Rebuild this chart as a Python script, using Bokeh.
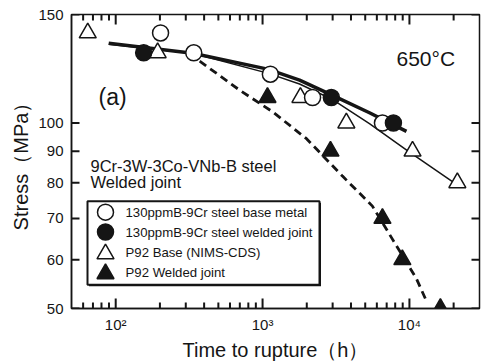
from bokeh.plotting import figure
from bokeh.models import Range1d, LinearScale, BasicTickFormatter
from bokeh.core.properties import value
from bokeh.embed import file_html
from bokeh.resources import INLINE

FONT = "Liberation Sans"
INK = "#151515"

# ---------------- data ----------------
x_major_ticks = [100, 1000, 10000]
x_minor_ticks = [60, 70, 80, 90, 200, 300, 400, 500, 600, 700, 800, 900,
                 2000, 3000, 4000, 5000, 6000, 7000, 8000, 9000, 20000]
x_tick_labels = ["10\u00b2", "10\u00b3", "10\u2074"]
y_ticks = [50, 60, 70, 80, 90, 100, 150]
y_tick_labels = ["50", "60", "70", "80", "90", "100", "150"]

# 130ppmB-9Cr steel base metal (open circles)
base_t = [202, 340, 1130, 2190, 6550]
base_s = [140, 130, 120, 110, 100]
# 130ppmB-9Cr steel welded joint (filled circles)
weld_t = [155, 2940, 7780]
weld_s = [130, 110, 100]
# P92 base (NIMS-CDS) (open triangles)
p92b_t = [64.5, 193, 1810, 3720, 10500, 21200]
p92b_s = [140, 130, 110, 100, 90, 80]
# P92 welded joint (filled triangles)
p92w_t = [1080, 2900, 6550, 8950, 16250]
p92w_s = [110, 90, 70, 60, 50]

# fitted curves
thick_t = [89.6, 334, 1082, 1786, 2946, 5342, 9547]
thick_s = [134.7, 129.8, 122.3, 117.4, 111.1, 103.9, 96.9]
thin_t = [89.6, 334, 1082, 1786, 2946, 5342, 9683, 20900]
thin_s = [134.2, 129.8, 120.5, 115.7, 109.4, 99.8, 90.2, 79.5]
dash_t = [373, 697, 1169, 1992, 3499, 5598, 7658, 11160, 13060]
dash_s = [126.0, 113.1, 104.3, 94.3, 82.0, 73.3, 64.8, 55.9, 51.4]

legend_labels = ["130ppmB-9Cr steel base metal",
                 "130ppmB-9Cr steel welded joint",
                 "P92  Base  (NIMS-CDS)",
                 "P92  Welded joint"]

# ---------------- figure ----------------
W, H = 493, 363
BL, BR, BT, BB = 71, 14, 14, 53
FW, FH = W - BL - BR, H - BT - BB
X0, X1, Y0, Y1 = 50, 30000, 50, 150
p = figure(x_axis_type="log", y_axis_type="log",
           x_range=Range1d(X0, X1), y_range=Range1d(Y0, Y1),
           width=W, height=H,
           min_border_left=BL, min_border_right=BR, min_border_top=BT, min_border_bottom=BB,
           output_backend="svg", toolbar_location=None)
p.grid.visible = False
p.background_fill_color = "white"
p.border_fill_color = "white"
p.outline_line_color = INK
p.outline_line_width = 1.5

def style_axis(ax):
    ax.axis_line_color = INK
    ax.axis_line_width = 1.5
    ax.major_tick_out = 0
    ax.minor_tick_out = 0
    ax.major_tick_in = 0
    ax.minor_tick_in = 0
    ax.major_tick_line_color = None
    ax.minor_tick_line_color = None
    ax.major_label_text_font = FONT
    ax.major_label_text_color = INK
    ax.axis_label_text_font = FONT
    ax.axis_label_text_font_style = "normal"
    ax.axis_label_text_color = INK

xa = p.xaxis[0]
style_axis(xa)
xa.ticker = x_major_ticks
xa.major_label_overrides = dict(zip(x_major_ticks, x_tick_labels))
xa.major_label_text_font_size = "15px"
xa.major_label_standoff = 7
xa.axis_label = "Time to rupture\uff08h\uff09"
xa.axis_label_text_font_size = "20px"
xa.axis_label_standoff = 3

ya = p.yaxis[0]
style_axis(ya)
ya.ticker = y_ticks
ya.formatter = BasicTickFormatter(use_scientific=False)
ya.major_label_overrides = dict(zip(y_ticks, y_tick_labels))
ya.major_label_text_font_size = "15px"
ya.major_label_standoff = 8
ya.axis_label = "Stress\uff08MPa\uff09"
ya.axis_label_text_font_size = "20px"
ya.axis_label_standoff = 3

# frame-pixel overlay ranges (for legend and annotations)
p.extra_x_ranges = {"px": Range1d(0, FW)}
p.extra_y_ranges = {"px": Range1d(0, FH)}
p.extra_x_scales = {"px": LinearScale()}
p.extra_y_scales = {"px": LinearScale()}
kw = dict(x_range_name="px", y_range_name="px")

# inward ticks on all four sides, as thin filled bars in data space
MAJ, MIN, YL, TW = 10, 6, 8, 1.0   # lengths and half-width in pixels
rx = (X1 / X0) ** (1.0 / FW)       # data factor per pixel along x
ry = (Y1 / Y0) ** (1.0 / FH)       # data factor per pixel along y
ql, qr, qb, qt = [], [], [], []
for ticks, L in ((x_major_ticks, MAJ), (x_minor_ticks, MIN)):
    for t in ticks:
        ql += [t / rx ** TW, t / rx ** TW]
        qr += [t * rx ** TW, t * rx ** TW]
        qb += [Y0, Y1 / ry ** L]
        qt += [Y0 * ry ** L, Y1]
for s in y_ticks:
    ql += [X0, X1 / rx ** YL]
    qr += [X0 * rx ** YL, X1]
    qb += [s / ry ** TW, s / ry ** TW]
    qt += [s * ry ** TW, s * ry ** TW]
p.quad(left=ql, right=qr, bottom=qb, top=qt, fill_color=INK, line_color=None)

# curves
p.line(thin_t, thin_s, line_color=INK, line_width=1.5)
p.line(thick_t, thick_s, line_color=INK, line_width=3.5)
p.line(dash_t, dash_s, line_color=INK, line_width=2.8, line_dash="8 5")

# markers
p.scatter(p92b_t, p92b_s, marker="triangle", size=17, fill_color="white", line_color=INK, line_width=1.5)
p.scatter(base_t, base_s, marker="circle", size=16, fill_color="white", line_color=INK, line_width=1.5)
p.scatter(weld_t, weld_s, marker="circle", size=16, fill_color=INK, line_color=INK, line_width=1.5)
p.scatter(p92w_t, p92w_s, marker="triangle", size=17, fill_color=INK, line_color=INK, line_width=1.5)

# legend box
p.quad(left=[17.5], right=[249.5], bottom=[22.5], top=[106.5], fill_color=INK, line_color=None, **kw)
p.quad(left=[16], right=[248], bottom=[24], top=[108], fill_color="white", line_color=INK, line_width=2, **kw)
leg_x = [34, 34, 34, 34]
leg_y = [97, 77, 56, 36]
p.scatter(leg_x[:1], leg_y[:1], marker="circle", size=16, fill_color="white", line_color=INK, line_width=1.5, **kw)
p.scatter(leg_x[1:2], leg_y[1:2], marker="circle", size=16, fill_color=INK, line_color=INK, line_width=1.5, **kw)
p.scatter(leg_x[2:3], [leg_y[2] - 1], marker="triangle", size=17, fill_color="white", line_color=INK, line_width=1.5, **kw)
p.scatter(leg_x[3:4], [leg_y[3] - 1], marker="triangle", size=17, fill_color=INK, line_color=INK, line_width=1.5, **kw)
p.text([54] * 4, leg_y, text=legend_labels, text_font=value(FONT), text_font_size="13.2px",
       text_baseline="middle", text_color=INK, **kw)

# annotations
p.text([27], [213], text=["(a)"], text_font=value(FONT), text_font_size="23px",
       text_baseline="middle", text_color=INK, **kw)
p.text([325], [252], text=["650\u00b0C"], text_font=value(FONT), text_font_size="21px",
       text_baseline="middle", text_color=INK, **kw)
p.text([19, 19], [143, 127], text=["9Cr-3W-3Co-VNb-B steel", "Welded joint"],
       text_font=value(FONT), text_font_size="16.5px", text_baseline="middle", text_color=INK, **kw)

open("out.html", "w").write(file_html(p, INLINE))
